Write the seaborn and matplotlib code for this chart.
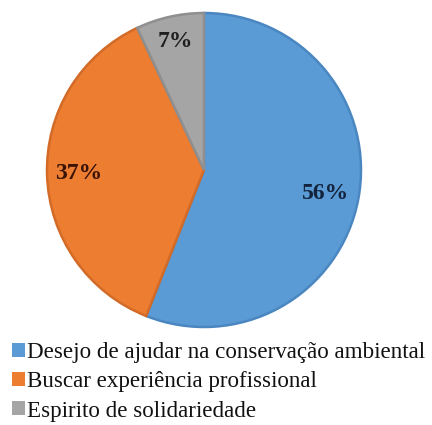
import matplotlib
matplotlib.use("Agg")
import matplotlib.pyplot as plt
from matplotlib.patches import Patch
import numpy as np
import seaborn as sns

# Motivation shares (percent)
categories = [
    "Desejo de ajudar na conservação ambiental",
    "Buscar experiência profissional",
    "Espirito de solidariedade",
]
shares = [56, 37, 7]
value_labels = ["56%", "37%", "7%"]

sns.set_theme(style="white")
plt.rcParams["font.family"] = ["Liberation Serif", "DejaVu Serif"]

fills = ["#5B9BD5", "#ED7D31", "#A5A5A5"]
edges = ["#4A86C0", "#D26B27", "#8F8F8F"]
text_colors = ["#13233d", "#3a1307", "#1f1f1f"]

W, H = 432, 425
fig = plt.figure(figsize=(W / 100, H / 100), dpi=100)
fig.patch.set_facecolor("white")

cx, cy, r = 204, 170, 157
ax = fig.add_axes([(cx - r) / W, 1 - (cy + r) / H, 2 * r / W, 2 * r / H])

wedges, _ = ax.pie(
    shares,
    colors=fills,
    startangle=90,
    counterclock=False,
    radius=1.0,
    wedgeprops=dict(linewidth=1.8),
)
for w, ec in zip(wedges, edges):
    w.set_edgecolor(ec)

# percentage labels inside each wedge
label_dist = [0.79, 0.80, 0.84]
for w, txt, col, d in zip(wedges, value_labels, text_colors, label_dist):
    ang = np.deg2rad((w.theta1 + w.theta2) / 2)
    ax.text(d * np.cos(ang), d * np.sin(ang), txt, ha="center", va="center",
            fontsize=17, fontweight="bold", color=col)

ax.set_xlim(-1.0, 1.0)
ax.set_ylim(-1.0, 1.0)
ax.set_aspect("equal")
ax.axis("off")

handles = [Patch(facecolor=c, edgecolor="none") for c in fills]
fig.legend(
    handles, categories,
    loc="upper left",
    bbox_to_anchor=(12 / W, 1 - 342 / H),
    frameon=False,
    fontsize=16.6,
    handlelength=0.56,
    handleheight=0.56,
    handletextpad=0.1,
    labelspacing=0.36,
    borderaxespad=0,
    borderpad=0,
    labelcolor="#111111",
)

fig.savefig("out.png", dpi=100, facecolor="white")
